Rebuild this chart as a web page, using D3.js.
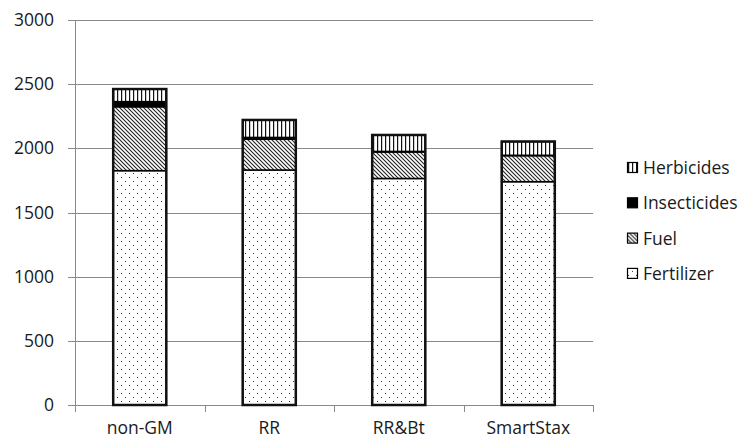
<!DOCTYPE html>
<html>
<head>
<meta charset="utf-8">
<script src="https://cdn.jsdelivr.net/npm/d3@7"></script>
<style>
  html, body { margin: 0; padding: 0; background: #fff; }
  svg { display: block; font-family: "Open Sans", Lato, sans-serif; }
</style>
</head>
<body>
<svg id="chart" width="746" height="441"></svg>
<script>
// Energy inputs per cropping system, stacked by source
const categories = ["non-GM", "RR", "RR&Bt", "SmartStax"];
const seriesNames = ["Fertilizer", "Fuel", "Insecticides", "Herbicides"];
const fertilizer = [1826, 1831, 1765, 1740];
const fuel = [498, 240, 207, 203];
const insecticides = [40, 14, 4, 3];
const herbicides = [98, 136, 128, 107];
const yTicks = [0, 500, 1000, 1500, 2000, 2500, 3000];

const rows = categories.map((c, i) => ({
  category: c,
  Fertilizer: fertilizer[i],
  Fuel: fuel[i],
  Insecticides: insecticides[i],
  Herbicides: herbicides[i]
}));

const svg = d3.select("#chart");
const margin = { left: 75, right: 153, top: 20, bottom: 36 };
const W = 746, H = 441;
const fontSize = 17.5;

const x = d3.scaleBand().domain(categories)
  .range([margin.left, W - margin.right]).paddingInner(0.59).paddingOuter(0.295);
const y = d3.scaleLinear().domain([0, 3000]).range([H - margin.bottom, margin.top]);

// fill patterns
const defs = svg.append("defs");
const pFert = defs.append("pattern").attr("id", "p-fert")
  .attr("patternUnits", "userSpaceOnUse").attr("width", 8).attr("height", 8);
pFert.append("rect").attr("width", 8).attr("height", 8).attr("fill", "#fff");
pFert.append("rect").attr("x", 1).attr("y", 1).attr("width", 1).attr("height", 1).attr("fill", "#333");
pFert.append("rect").attr("x", 5).attr("y", 5).attr("width", 1).attr("height", 1).attr("fill", "#333");

const pFuel = defs.append("pattern").attr("id", "p-fuel")
  .attr("patternUnits", "userSpaceOnUse").attr("width", 4).attr("height", 4);
pFuel.append("rect").attr("width", 4).attr("height", 4).attr("fill", "#fff");
pFuel.append("path").attr("d", "M-1,-1 L5,5 M-1,3 L1,5 M3,-1 L5,1")
  .attr("stroke", "#222").attr("stroke-width", 1.1);

const pHerb = defs.append("pattern").attr("id", "p-herb")
  .attr("patternUnits", "userSpaceOnUse").attr("width", 4).attr("height", 4);
pHerb.append("rect").attr("width", 4).attr("height", 4).attr("fill", "#fff");
pHerb.append("rect").attr("x", 1).attr("y", 0).attr("width", 1.2).attr("height", 4).attr("fill", "#111");

const fills = {
  Fertilizer: "url(#p-fert)",
  Fuel: "url(#p-fuel)",
  Insecticides: "#000",
  Herbicides: "url(#p-herb)"
};

// gridlines with left tick stubs
const grid = svg.append("g");
grid.selectAll("line").data(yTicks).join("line")
  .attr("x1", margin.left - 7).attr("x2", W - margin.right)
  .attr("y1", d => Math.round(y(d)) + 0.5).attr("y2", d => Math.round(y(d)) + 0.5)
  .attr("stroke", "#8a8a8a").attr("stroke-width", 1);

// y axis line
svg.append("line")
  .attr("x1", margin.left + 0.5).attr("x2", margin.left + 0.5)
  .attr("y1", y(3000)).attr("y2", y(0) + 7)
  .attr("stroke", "#8a8a8a");

// category boundary ticks under the baseline
const bounds = categories.map(c => x(c) + x.bandwidth() / 2 + x.step() / 2);
svg.append("g").selectAll("line").data(bounds).join("line")
  .attr("x1", d => Math.round(d) + 0.5).attr("x2", d => Math.round(d) + 0.5)
  .attr("y1", y(0)).attr("y2", y(0) + 7)
  .attr("stroke", "#8a8a8a");

// y tick labels
svg.append("g").selectAll("text").data(yTicks).join("text")
  .attr("x", margin.left - 21).attr("y", d => y(d))
  .attr("dy", "0.35em").attr("text-anchor", "end")
  .attr("font-size", fontSize).attr("fill", "#1a1a1a")
  .text(d => d);

// category labels
svg.append("g").selectAll("text").data(categories).join("text")
  .attr("x", d => x(d) + x.bandwidth() / 2).attr("y", 434)
  .attr("text-anchor", "middle").attr("font-size", fontSize).attr("fill", "#1a1a1a")
  .text(d => d);

// stacked bars
const stacked = d3.stack().keys(seriesNames)(rows);
const barG = svg.append("g");
stacked.forEach(layer => {
  barG.append("g").selectAll("rect").data(layer).join("rect")
    .attr("x", d => x(d.data.category))
    .attr("y", d => y(d[1]))
    .attr("width", x.bandwidth())
    .attr("height", d => y(d[0]) - y(d[1]))
    .attr("fill", fills[layer.key])
    .attr("stroke", "#000").attr("stroke-width", 1.5);
});
// heavy outline around each whole bar
barG.append("g").selectAll("rect").data(rows).join("rect")
  .attr("x", d => x(d.category))
  .attr("y", d => y(d.Fertilizer + d.Fuel + d.Insecticides + d.Herbicides))
  .attr("width", x.bandwidth())
  .attr("height", d => y(0) - y(d.Fertilizer + d.Fuel + d.Insecticides + d.Herbicides))
  .attr("fill", "none").attr("stroke", "#111").attr("stroke-width", 2.5);

// legend
const legendOrder = ["Herbicides", "Insecticides", "Fuel", "Fertilizer"];
const lg = svg.append("g").attr("transform", "translate(627,168)");
const item = lg.selectAll("g").data(legendOrder).join("g")
  .attr("transform", (d, i) => `translate(0,${i * 35.3})`);
item.append("rect").attr("x", 0.5).attr("y", -5.5).attr("width", 10).attr("height", 10)
  .attr("fill", d => fills[d]).attr("stroke", "#000").attr("stroke-width", 1.2);
item.append("text").attr("x", 16).attr("y", 0).attr("dy", "0.35em")
  .attr("font-size", fontSize).attr("fill", "#1a1a1a").text(d => d);
</script>
</body>
</html>
